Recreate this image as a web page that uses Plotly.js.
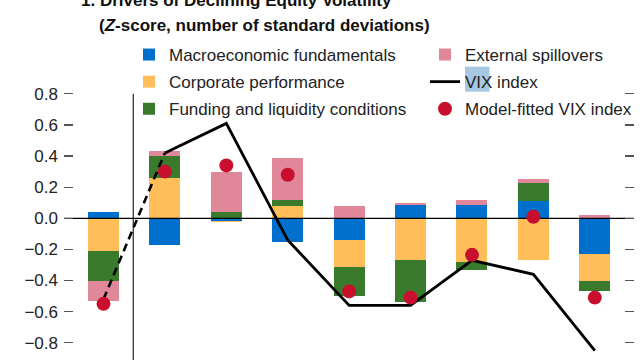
<!DOCTYPE html>
<html>
<head>
<meta charset="utf-8">
<script src="https://cdn.plot.ly/plotly-3.0.1.min.js"></script>
<style>html,body{margin:0;padding:0;background:#fff;}#chart{width:640px;height:360px;}</style>
</head>
<body>
<div id="chart"></div>
<script>
// Periods (x positions; the original has no visible period labels)
const periods = [0, 1, 2, 3, 4, 5, 6, 7, 8];

// Contributions (Z-score)
const macroFundamentals = [0.04, -0.17, -0.015, -0.15, -0.14, 0.085, 0.085, 0.11, -0.23];
const corporatePerformance = [-0.21, 0.26, -0.01, 0.08, -0.17, -0.27, -0.28, -0.27, -0.175];
const fundingLiquidity = [-0.19, 0.14, 0.04, 0.04, -0.19, -0.265, -0.05, 0.12, -0.065];
const externalSpillovers = [-0.13, 0.03, 0.26, 0.27, 0.08, 0.015, 0.03, 0.025, 0.02];

// Lines / points
const vixIndex = [-0.52, 0.42, 0.61, -0.14, -0.56, -0.56, -0.27, -0.36, -0.85];
const modelFittedVix = [-0.55, 0.30, 0.34, 0.28, -0.47, -0.51, -0.235, 0.01, -0.51];

// Axis tick values
const yTicks = [-0.8, -0.6, -0.4, -0.2, 0.0, 0.2, 0.4, 0.6, 0.8];

const xRange = [-0.643, 8.638];
const yRange = [-0.911, 0.831];
const FONT = 'Liberation Sans, Arial, Helvetica, sans-serif';
const BAR_W = 0.505;

function barTrace(name, y, color, legend, grp) {
  return {
    type: 'bar', name: name, x: periods, y: y, width: BAR_W,
    marker: {color: color, line: {width: 0}},
    legend: legend, legendgroup: grp, hoverinfo: 'skip'
  };
}

const data = [
  barTrace('Macroeconomic fundamentals', macroFundamentals, '#0070CC', 'legend', 'a'),
  barTrace('Corporate performance', corporatePerformance, '#FFBE5A', 'legend', 'b'),
  barTrace('Funding and liquidity conditions', fundingLiquidity, '#3A7A2C', 'legend', 'c'),
  barTrace('External spillovers', externalSpillovers, '#E0879A', 'legend2', 'd'),
  { // zero line, above bars, below lines and dots
    type: 'scatter', mode: 'lines', x: xRange, y: [0, 0],
    line: {color: '#000', width: 1.3}, showlegend: false, hoverinfo: 'skip'
  },
  { // dashed link from the first period
    type: 'scatter', mode: 'lines', x: periods.slice(0, 2), y: vixIndex.slice(0, 2),
    line: {color: '#000', width: 2.6, dash: '8px,5px'}, showlegend: false,
    legend: 'legend2', legendgroup: 'e', hoverinfo: 'skip'
  },
  {
    type: 'scatter', mode: 'lines', name: 'VIX index', x: periods.slice(1), y: vixIndex.slice(1),
    line: {color: '#000', width: 2.8}, legend: 'legend2', legendgroup: 'e', hoverinfo: 'skip'
  },
  {
    type: 'scatter', mode: 'markers', name: 'Model-fitted VIX index', x: periods, y: modelFittedVix,
    marker: {color: '#C8102E', size: 14}, legend: 'legend2', legendgroup: 'f', hoverinfo: 'skip'
  }
];

const legendCommon = {
  orientation: 'v', xref: 'container', yref: 'container', xanchor: 'left', yanchor: 'top',
  y: 1 - 37 / 360, bgcolor: 'rgba(0,0,0,0)', borderwidth: 0,
  font: {family: FONT, size: 17, color: '#222'}, tracegroupgap: 2, traceorder: 'grouped',
  itemclick: false, itemdoubleclick: false
};

const layout = {
  width: 640, height: 360,
  margin: {l: 64, r: 6, t: 89, b: 0, pad: 0, autoexpand: false},
  paper_bgcolor: '#fff', plot_bgcolor: '#fff',
  barmode: 'relative', bargap: 0,
  font: {family: FONT, size: 17, color: '#222'},
  showlegend: true,
  legend: Object.assign({}, legendCommon, {x: 129 / 640}),
  legend2: Object.assign({}, legendCommon, {x: 425 / 640}),
  xaxis: {range: xRange, visible: false, fixedrange: true},
  yaxis: {
    range: yRange, tickvals: yTicks, tickformat: '.1f', automargin: false,
    ticks: 'inside', ticklen: 9, tickwidth: 1.3, tickcolor: '#555', mirror: 'ticks',
    showgrid: false, zeroline: false, showline: false, ticklabelstandoff: 5,
    tickfont: {family: FONT, size: 17, color: '#222'}, fixedrange: true
  },
  shapes: [
    {type: 'line', xref: 'x', yref: 'y', x0: 0.485, x1: 0.485, y0: 0.8, y1: yRange[0],
     line: {color: '#333', width: 1.3}, layer: 'below'},
    {type: 'rect', xref: 'paper', yref: 'paper', x0: 0.7035, x1: 0.7465, y0: 0.990, y1: 1.0823,
     fillcolor: '#A6C8E2', line: {width: 0}, layer: 'above'}
  ],
  annotations: [
    {xref: 'paper', yref: 'paper', x: 0.026, y: 1.3266, xanchor: 'left', yanchor: 'middle',
     text: '<b>1. Drivers of Declining Equity Volatility</b>', showarrow: false,
     font: {family: FONT, size: 17, color: '#111'}},
    {xref: 'paper', yref: 'paper', x: 0.058, y: 1.234, xanchor: 'left', yanchor: 'middle',
     text: '<b>(<i>Z</i>-score, number of standard deviations)</b>', showarrow: false,
     font: {family: FONT, size: 17, color: '#111'}}
  ]
};

Plotly.newPlot('chart', data, layout, {displayModeBar: false, staticPlot: true});
</script>
</body>
</html>
